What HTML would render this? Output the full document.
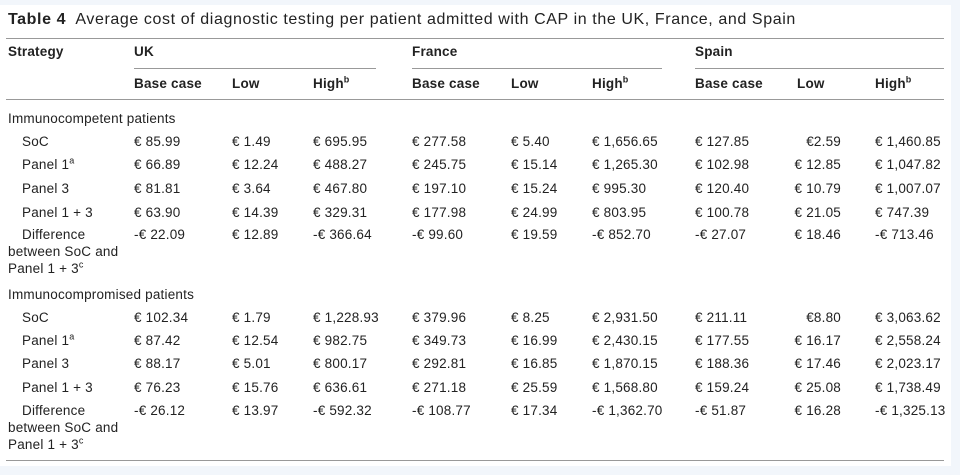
<!DOCTYPE html>
<html><head><meta charset="utf-8"><style>
body{margin:0;width:960px;height:475px;background:#f2f6fb;font-family:"Liberation Sans",sans-serif;color:#222;position:relative;overflow:hidden}
#w{position:absolute;left:0;top:5px;width:951px;height:461px;background:#fff}
.r{position:absolute;left:0;height:16px;line-height:16px;font-size:13.5px;width:951px}
.r span{position:absolute;white-space:nowrap;letter-spacing:0.2px}
.b{font-weight:bold}
.l{position:absolute;height:1px;background:#999}
sup{font-size:9px;line-height:0}
</style></head><body><div id="w"></div>
<div class="r" style="top:12px;font-size:16px"><span style="left:8px;letter-spacing:0.6px"><b>Table 4</b>&nbsp; Average cost of diagnostic testing per patient admitted with CAP in the UK, France, and Spain</span></div>
<div class="l" style="left:6px;top:38px;width:938px"></div>
<div class="r b" style="top:44px"><span style="left:8px">Strategy</span><span style="left:134px">UK</span><span style="left:412px">France</span><span style="left:695px">Spain</span></div>
<div class="l" style="left:134px;top:68px;width:242px"></div>
<div class="l" style="left:412px;top:68px;width:250px"></div>
<div class="l" style="left:695px;top:68px;width:249px"></div>
<div class="r b" style="top:76px"><span style="left:134px">Base case</span><span style="left:232px">Low</span><span style="left:313px">High<sup>b</sup></span><span style="left:412px">Base case</span><span style="left:511px">Low</span><span style="left:592px">High<sup>b</sup></span><span style="left:695px">Base case</span><span style="left:797px">Low</span><span style="left:875px">High<sup>b</sup></span></div>
<div class="l" style="left:6px;top:99px;width:938px"></div>

<div class="r" style="top:111px"><span style="left:8px">Immunocompetent patients</span></div>
<div class="r" style="top:134px"><span style="left:22px">SoC</span><span style="left:134px">€ 85.99</span><span style="left:232px">€ 1.49</span><span style="left:313px">€ 695.95</span><span style="left:412px">€ 277.58</span><span style="left:511px">€ 5.40</span><span style="left:592px">€ 1,656.65</span><span style="left:695px">€ 127.85</span><span style="right:110px">€2.59</span><span style="left:875px">€ 1,460.85</span></div>
<div class="r" style="top:157px"><span style="left:22px">Panel 1<sup>a</sup></span><span style="left:134px">€ 66.89</span><span style="left:232px">€ 12.24</span><span style="left:313px">€ 488.27</span><span style="left:412px">€ 245.75</span><span style="left:511px">€ 15.14</span><span style="left:592px">€ 1,265.30</span><span style="left:695px">€ 102.98</span><span style="right:110px">€ 12.85</span><span style="left:875px">€ 1,047.82</span></div>
<div class="r" style="top:181px"><span style="left:22px">Panel 3</span><span style="left:134px">€ 81.81</span><span style="left:232px">€ 3.64</span><span style="left:313px">€ 467.80</span><span style="left:412px">€ 197.10</span><span style="left:511px">€ 15.24</span><span style="left:592px">€ 995.30</span><span style="left:695px">€ 120.40</span><span style="right:110px">€ 10.79</span><span style="left:875px">€ 1,007.07</span></div>
<div class="r" style="top:205px"><span style="left:22px">Panel 1 + 3</span><span style="left:134px">€ 63.90</span><span style="left:232px">€ 14.39</span><span style="left:313px">€ 329.31</span><span style="left:412px">€ 177.98</span><span style="left:511px">€ 24.99</span><span style="left:592px">€ 803.95</span><span style="left:695px">€ 100.78</span><span style="right:110px">€ 21.05</span><span style="left:875px">€ 747.39</span></div>
<div class="r" style="top:227px"><span style="left:22px">Difference</span><span style="left:134px">-€ 22.09</span><span style="left:232px">€ 12.89</span><span style="left:313px">-€ 366.64</span><span style="left:412px">-€ 99.60</span><span style="left:511px">€ 19.59</span><span style="left:592px">-€ 852.70</span><span style="left:695px">-€ 27.07</span><span style="right:110px">€ 18.46</span><span style="left:875px">-€ 713.46</span></div>
<div class="r" style="top:244px"><span style="left:8px">between SoC and</span></div>
<div class="r" style="top:261px"><span style="left:8px">Panel 1 + 3<sup>c</sup></span></div>

<div class="r" style="top:287px"><span style="left:8px">Immunocompromised patients</span></div>
<div class="r" style="top:310px"><span style="left:22px">SoC</span><span style="left:134px">€ 102.34</span><span style="left:232px">€ 1.79</span><span style="left:313px">€ 1,228.93</span><span style="left:412px">€ 379.96</span><span style="left:511px">€ 8.25</span><span style="left:592px">€ 2,931.50</span><span style="left:695px">€ 211.11</span><span style="right:110px">€8.80</span><span style="left:875px">€ 3,063.62</span></div>
<div class="r" style="top:333px"><span style="left:22px">Panel 1<sup>a</sup></span><span style="left:134px">€ 87.42</span><span style="left:232px">€ 12.54</span><span style="left:313px">€ 982.75</span><span style="left:412px">€ 349.73</span><span style="left:511px">€ 16.99</span><span style="left:592px">€ 2,430.15</span><span style="left:695px">€ 177.55</span><span style="right:110px">€ 16.17</span><span style="left:875px">€ 2,558.24</span></div>
<div class="r" style="top:356px"><span style="left:22px">Panel 3</span><span style="left:134px">€ 88.17</span><span style="left:232px">€ 5.01</span><span style="left:313px">€ 800.17</span><span style="left:412px">€ 292.81</span><span style="left:511px">€ 16.85</span><span style="left:592px">€ 1,870.15</span><span style="left:695px">€ 188.36</span><span style="right:110px">€ 17.46</span><span style="left:875px">€ 2,023.17</span></div>
<div class="r" style="top:380px"><span style="left:22px">Panel 1 + 3</span><span style="left:134px">€ 76.23</span><span style="left:232px">€ 15.76</span><span style="left:313px">€ 636.61</span><span style="left:412px">€ 271.18</span><span style="left:511px">€ 25.59</span><span style="left:592px">€ 1,568.80</span><span style="left:695px">€ 159.24</span><span style="right:110px">€ 25.08</span><span style="left:875px">€ 1,738.49</span></div>
<div class="r" style="top:403px"><span style="left:22px">Difference</span><span style="left:134px">-€ 26.12</span><span style="left:232px">€ 13.97</span><span style="left:313px">-€ 592.32</span><span style="left:412px">-€ 108.77</span><span style="left:511px">€ 17.34</span><span style="left:592px">-€ 1,362.70</span><span style="left:695px">-€ 51.87</span><span style="right:110px">€ 16.28</span><span style="left:875px">-€ 1,325.13</span></div>
<div class="r" style="top:420px"><span style="left:8px">between SoC and</span></div>
<div class="r" style="top:437px"><span style="left:8px">Panel 1 + 3<sup>c</sup></span></div>
<div class="l" style="left:6px;top:460px;width:938px"></div>
</body></html>
